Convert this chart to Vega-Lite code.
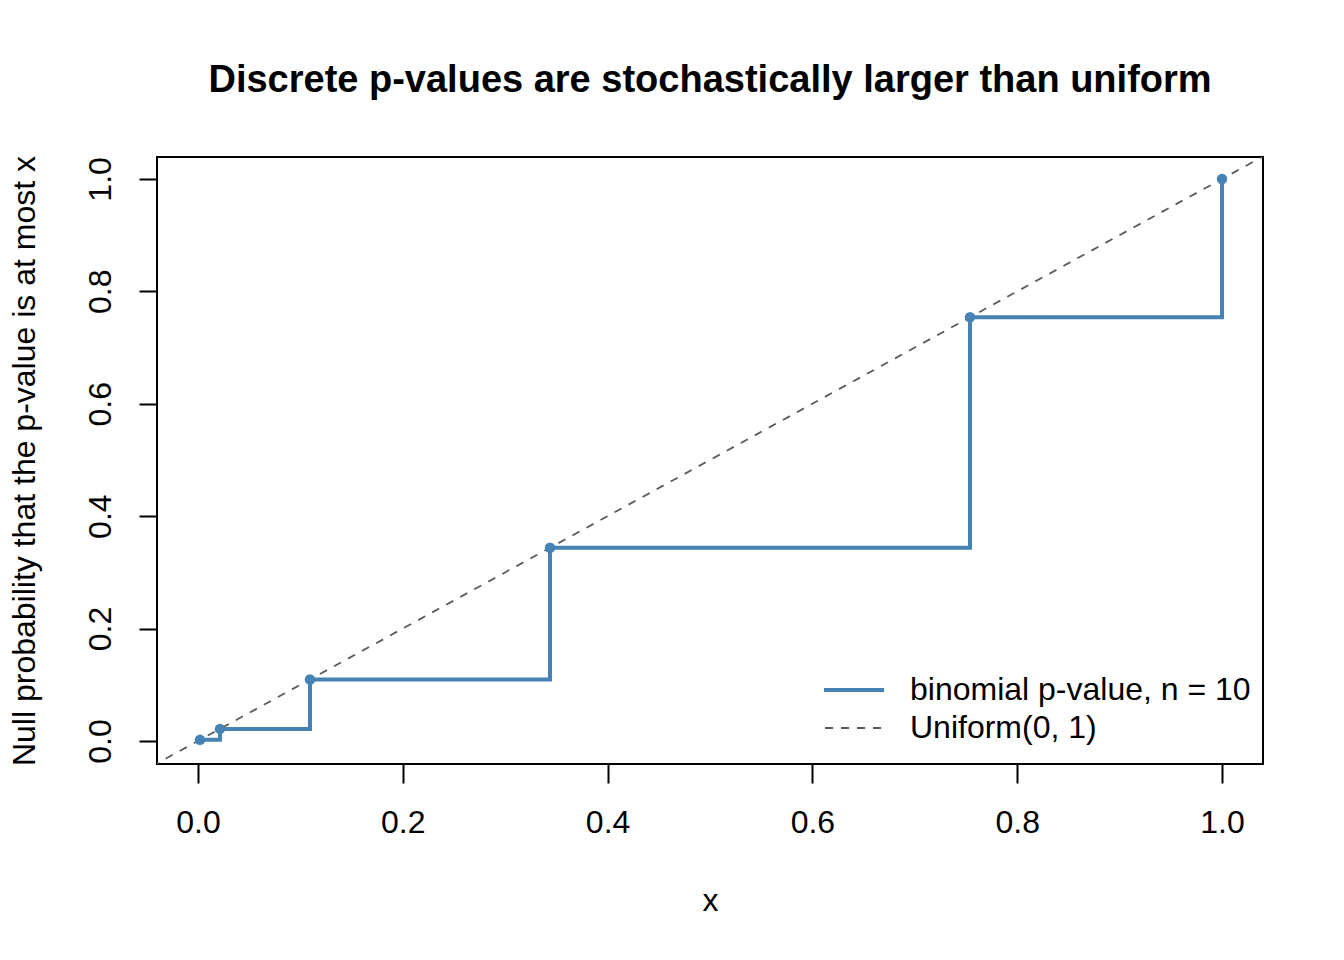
{
  "$schema": "https://vega.github.io/schema/vega-lite/v6.json",
  "width": 1106,
  "height": 607,
  "autosize": {"type": "none"},
  "padding": {"left": 157, "top": 157, "right": 81, "bottom": 196},
  "background": "white",
  "title": {
    "text": "Discrete p-values are stochastically larger than uniform",
    "font": "Liberation Sans",
    "fontSize": 38,
    "fontWeight": "bold",
    "color": "black",
    "anchor": "middle",
    "baseline": "alphabetic",
    "offset": 25
  },
  "datasets": {
    "steps": [
      {"p": 0.001953125, "prob": 0.001953125, "series": "binomial p-value, n = 10", "style": "solid"},
      {"p": 0.021484375, "prob": 0.021484375, "series": "binomial p-value, n = 10", "style": "solid"},
      {"p": 0.109375, "prob": 0.109375, "series": "binomial p-value, n = 10", "style": "solid"},
      {"p": 0.34375, "prob": 0.34375, "series": "binomial p-value, n = 10", "style": "solid"},
      {"p": 0.75390625, "prob": 0.75390625, "series": "binomial p-value, n = 10", "style": "solid"},
      {"p": 1.0, "prob": 1.0, "series": "binomial p-value, n = 10", "style": "solid"}
    ],
    "uniform": [
      {"p": -0.1, "prob": -0.1, "series": "Uniform(0, 1)", "style": "dashed"},
      {"p": 1.1, "prob": 1.1, "series": "Uniform(0, 1)", "style": "dashed"}
    ]
  },
  "encoding": {
    "x": {
      "field": "p",
      "type": "quantitative",
      "title": "x",
      "scale": {"domain": [-0.04, 1.04], "nice": false, "zero": false},
      "axis": {
        "values": [0, 0.2, 0.4, 0.6, 0.8, 1.0],
        "format": ".1f",
        "domain": false,
        "grid": false,
        "tickSize": 19,
        "tickWidth": 2,
        "tickColor": "black",
        "labelFont": "Liberation Sans",
        "labelFontSize": 32,
        "labelColor": "black",
        "labelPadding": 24,
        "labelFlush": false,
        "titleFont": "Liberation Sans",
        "titleFontSize": 32,
        "titleFontWeight": "normal",
        "titleColor": "black",
        "titlePadding": 47
      }
    },
    "y": {
      "field": "prob",
      "type": "quantitative",
      "title": "Null probability that the p-value is at most x",
      "scale": {"domain": [-0.041, 1.039], "nice": false, "zero": false},
      "axis": {
        "values": [0, 0.2, 0.4, 0.6, 0.8, 1.0],
        "format": ".1f",
        "domain": false,
        "grid": false,
        "tickSize": 18,
        "tickWidth": 2,
        "tickColor": "black",
        "labelFont": "Liberation Sans",
        "labelFontSize": 32,
        "labelColor": "black",
        "labelAngle": -90,
        "labelAlign": "center",
        "labelBaseline": "bottom",
        "labelPadding": 22,
        "labelFlush": false,
        "titleFont": "Liberation Sans",
        "titleFontSize": 32,
        "titleFontWeight": "normal",
        "titleColor": "black",
        "titlePadding": 43
      }
    },
    "color": {
      "field": "series",
      "type": "nominal",
      "title": null,
      "scale": {
        "domain": ["binomial p-value, n = 10", "Uniform(0, 1)"],
        "range": ["#4682B4", "#5a5a5a"]
      },
      "legend": {
        "values": ["binomial p-value, n = 10"],
        "orient": "none",
        "legendX": 665,
        "legendY": 501,
        "symbolType": "stroke",
        "symbolSize": 3600,
        "symbolStrokeWidth": 4,
        "labelFont": "Liberation Sans",
        "labelFontSize": 32,
        "labelColor": "black",
        "labelOffset": 24,
        "labelLimit": 500
      }
    },
    "strokeDash": {
      "field": "style",
      "type": "nominal",
      "title": null,
      "scale": {
        "domain": ["solid", "dashed"],
        "range": [[1, 0], [8, 8]]
      },
      "legend": {
        "values": ["dashed"],
        "labelExpr": "'Uniform(0, 1)'",
        "orient": "none",
        "legendX": 667,
        "legendY": 540,
        "symbolType": "stroke",
        "symbolSize": 3600,
        "symbolStrokeWidth": 1.8,
        "symbolStrokeColor": "#5a5a5a",
        "labelFont": "Liberation Sans",
        "labelFontSize": 32,
        "labelColor": "black",
        "labelOffset": 24,
        "labelLimit": 500
      }
    }
  },
  "layer": [
    {
      "data": {"name": "uniform"},
      "mark": {"type": "line", "strokeWidth": 1.8, "clip": true}
    },
    {
      "data": {"name": "steps"},
      "mark": {"type": "line", "interpolate": "step-after", "strokeWidth": 4}
    },
    {
      "data": {"name": "steps"},
      "mark": {"type": "point", "filled": true, "opacity": 1, "size": 110, "color": "#4682B4"},
      "encoding": {"strokeDash": {"value": [1, 0]}, "color": {"value": "#4682B4"}}
    }
  ],
  "config": {
    "view": {"stroke": "black", "strokeWidth": 2}
  }
}
